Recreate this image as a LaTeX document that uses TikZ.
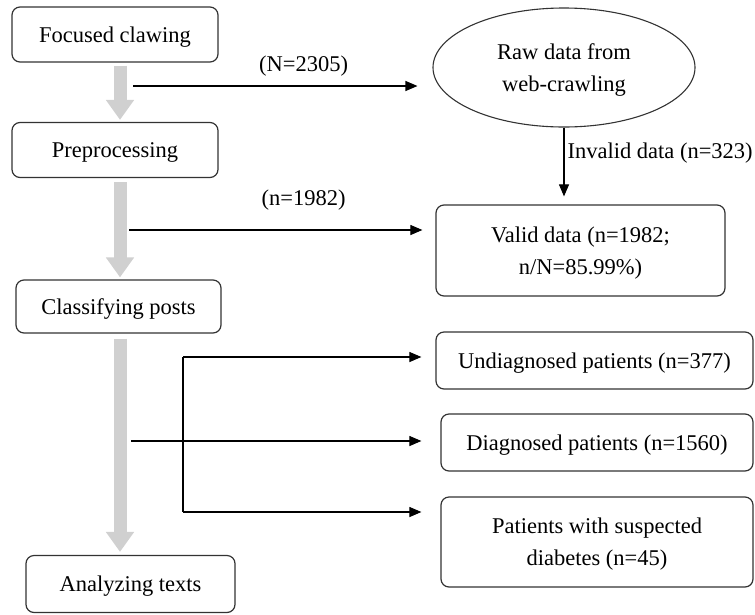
\documentclass[tikz,border=0pt]{standalone}
\usepackage{fontspec}
\setmainfont{Liberation Serif}
\usepackage{tikz}
\usetikzlibrary{arrows.meta, positioning, calc, shapes.geometric}
\definecolor{flowgray}{RGB}{208,208,208}
\tikzset{
    stage_box/.style={draw=black!80, line width=1.2pt, rounded corners=8pt, inner sep=0pt, align=center, text depth=0pt},
    data_oval/.style={draw=black!80, line width=1.1pt, ellipse, inner sep=0pt, align=center, text depth=0pt},
    flow_arrow/.style={draw=flowgray, line width=13pt, -{Triangle[width=27pt, length=20pt]}},
    link_arrow/.style={line width=1.1pt, -{Triangle[width=10pt, length=12pt]}},
    link_line/.style={line width=1.1pt},
    every node/.style={font=\fontsize{22.5}{32}\selectfont}
}
\begin{document}
\begin{tikzpicture}[x=1pt, y=-1pt]
    \useasboundingbox (0,0) rectangle (755,614);
    % Steps on the left
    \node[stage_box, minimum width=206pt, minimum height=55pt] (focus) at (115,34.5) {Focused clawing};
    \node[stage_box, minimum width=206pt, minimum height=55pt] (prep) at (115,150) {Preprocessing};
    \node[stage_box, minimum width=205pt, minimum height=53pt] (classify) at (118.5,306.5) {Classifying posts};
    \node[stage_box, minimum width=209pt, minimum height=57pt] (analyze) at (130.5,584) {Analyzing texts};
    % Data on the right
    \node[data_oval, minimum width=262pt, minimum height=119pt] (raw) at (564,67.5) {Raw data from\\web-crawling};
    \node[stage_box, minimum width=289pt, minimum height=91pt] (valid) at (580.5,250.5) {Valid data (n=1982;\\n/N=85.99\%)};
    \node[stage_box, minimum width=317pt, minimum height=57pt] (undiag) at (594.5,360.5) {Undiagnosed patients (n=377)};
    \node[stage_box, minimum width=312pt, minimum height=57pt] (diag) at (597,442.5) {Diagnosed patients (n=1560)};
    \node[stage_box, minimum width=312pt, minimum height=90pt] (suspect) at (597,542) {Patients with suspected\\diabetes (n=45)};
    % Gray flow
    \coordinate (spine) at (120,0);
    \draw[flow_arrow, shorten <=3pt, shorten >=2pt] (focus.south -| spine) -- (prep.north -| spine);
    \draw[flow_arrow, shorten <=4pt, shorten >=2pt] (prep.south -| spine) -- (classify.north -| spine);
    \draw[flow_arrow, shorten <=5pt, shorten >=3pt] (classify.south -| spine) -- (analyze.north -| spine);
    % Crawled and valid data
    \coordinate (tap_raw) at (133,86);
    \draw[link_arrow, shorten >=15pt] (tap_raw) -- (tap_raw -| raw.west) node[pos=0.57, yshift=20pt] {(N=2305)};
    \draw[link_arrow, shorten >=8pt] (raw.south) -- (raw.south |- valid.north) node[pos=0.33, anchor=west, inner sep=3pt] {Invalid data (n=323)};
    \coordinate (tap_valid) at (129,230);
    \draw[link_arrow, shorten >=13pt] (tap_valid) -- (tap_valid -| valid.west) node[pos=0.57, yshift=29.5pt] {(n=1982)};
    % Classes of posts
    \coordinate (fork_top) at (183,357);
    \coordinate (fork_bot) at (183,512);
    \coordinate (tap_diag) at (131,441);
    \draw[link_line] (fork_top) -- (fork_bot);
    \draw[link_arrow, shorten >=14pt] (fork_top) -- (fork_top -| undiag.west);
    \draw[link_arrow, shorten >=19pt] (tap_diag) -- (tap_diag -| diag.west);
    \draw[link_arrow, shorten >=19pt] (fork_bot) -- (fork_bot -| suspect.west);
\end{tikzpicture}
\end{document}
